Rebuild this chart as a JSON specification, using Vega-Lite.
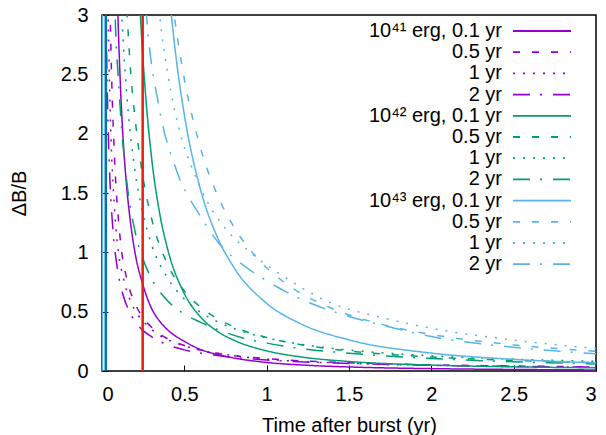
{
  "$schema": "https://vega.github.io/schema/vega-lite/v6.json",
  "width": 494,
  "height": 356,
  "autosize": {"type": "none"},
  "padding": {"left": 102, "top": 15, "right": 10, "bottom": 64},
  "background": "white",
  "config": {
    "view": {"stroke": "#000000", "strokeWidth": 1.5},
    "font": "Liberation Sans",
    "axis": {
      "domain": false, "grid": false, "tickColor": "#000000", "tickSize": -6, "tickWidth": 1,
      "labelFont": "Liberation Sans", "labelFontSize": 20, "labelColor": "#000000",
      "titleFont": "Liberation Sans", "titleFontSize": 20, "titleFontWeight": "normal", "titleColor": "#000000"
    }
  },
  "datasets": {
    "curves": [
      {"s":"p1","x":0.088,"y":3.45},{"s":"p1","x":0.0966,"y":3.0},{"s":"p1","x":0.11,"y":2.47},{"s":"p1","x":0.12,"y":2.16},{"s":"p1","x":0.135,"y":1.81},{"s":"p1","x":0.15,"y":1.55},{"s":"p1","x":0.175,"y":1.23},{"s":"p1","x":0.2,"y":1.0},{"s":"p1","x":0.25,"y":0.72},{"s":"p1","x":0.3,"y":0.53},{"s":"p1","x":0.35,"y":0.42},{"s":"p1","x":0.4,"y":0.345},{"s":"p1","x":0.5,"y":0.25},{"s":"p1","x":0.6,"y":0.18},{"s":"p1","x":0.7,"y":0.14},{"s":"p1","x":0.8,"y":0.11},{"s":"p1","x":1.0,"y":0.072},{"s":"p1","x":1.25,"y":0.048},{"s":"p1","x":1.5,"y":0.034},{"s":"p1","x":2.0,"y":0.02},{"s":"p1","x":2.5,"y":0.013},{"s":"p1","x":3.0,"y":0.009},

      {"s":"p2","x":0.045,"y":3.4},{"s":"p2","x":0.05,"y":3.0},{"s":"p2","x":0.06,"y":2.4},{"s":"p2","x":0.07,"y":2.0},{"s":"p2","x":0.08,"y":1.68},{"s":"p2","x":0.1,"y":1.27},{"s":"p2","x":0.12,"y":1.0},{"s":"p2","x":0.15,"y":0.78},{"s":"p2","x":0.2,"y":0.57},{"s":"p2","x":0.25,"y":0.45},{"s":"p2","x":0.3,"y":0.37},{"s":"p2","x":0.4,"y":0.27},{"s":"p2","x":0.5,"y":0.215},{"s":"p2","x":0.7,"y":0.15},{"s":"p2","x":1.0,"y":0.105},{"s":"p2","x":1.5,"y":0.07},{"s":"p2","x":2.0,"y":0.052},{"s":"p2","x":2.5,"y":0.042},{"s":"p2","x":3.0,"y":0.035},

      {"s":"p3","x":0.033,"y":3.3},{"s":"p3","x":0.037,"y":3.0},{"s":"p3","x":0.045,"y":2.45},{"s":"p3","x":0.055,"y":1.95},{"s":"p3","x":0.07,"y":1.5},{"s":"p3","x":0.085,"y":1.2},{"s":"p3","x":0.1,"y":1.0},{"s":"p3","x":0.13,"y":0.78},{"s":"p3","x":0.17,"y":0.6},{"s":"p3","x":0.22,"y":0.47},{"s":"p3","x":0.27,"y":0.39},{"s":"p3","x":0.35,"y":0.3},{"s":"p3","x":0.45,"y":0.235},{"s":"p3","x":0.6,"y":0.175},{"s":"p3","x":0.8,"y":0.13},{"s":"p3","x":1.0,"y":0.1},{"s":"p3","x":1.5,"y":0.065},{"s":"p3","x":2.0,"y":0.048},{"s":"p3","x":2.5,"y":0.038},{"s":"p3","x":3.0,"y":0.032},

      {"s":"p4","x":0.022,"y":3.36},{"s":"p4","x":0.025,"y":2.98},{"s":"p4","x":0.03,"y":2.51},{"s":"p4","x":0.04,"y":1.92},{"s":"p4","x":0.05,"y":1.55},{"s":"p4","x":0.06,"y":1.31},{"s":"p4","x":0.08,"y":1.0},{"s":"p4","x":0.1,"y":0.81},{"s":"p4","x":0.13,"y":0.63},{"s":"p4","x":0.16,"y":0.52},{"s":"p4","x":0.2,"y":0.42},{"s":"p4","x":0.25,"y":0.34},{"s":"p4","x":0.3,"y":0.29},{"s":"p4","x":0.4,"y":0.22},{"s":"p4","x":0.5,"y":0.178},{"s":"p4","x":0.7,"y":0.13},{"s":"p4","x":1.0,"y":0.093},{"s":"p4","x":1.5,"y":0.064},{"s":"p4","x":2.0,"y":0.048},{"s":"p4","x":2.5,"y":0.039},{"s":"p4","x":3.0,"y":0.033},

      {"s":"g1","x":0.22,"y":3.37},{"s":"g1","x":0.233,"y":3.0},{"s":"g1","x":0.26,"y":2.41},{"s":"g1","x":0.3,"y":1.81},{"s":"g1","x":0.35,"y":1.33},{"s":"g1","x":0.4,"y":1.02},{"s":"g1","x":0.5,"y":0.652},{"s":"g1","x":0.6,"y":0.453},{"s":"g1","x":0.7,"y":0.335},{"s":"g1","x":0.8,"y":0.26},{"s":"g1","x":1.0,"y":0.17},{"s":"g1","x":1.2,"y":0.12},{"s":"g1","x":1.5,"y":0.08},{"s":"g1","x":2.0,"y":0.05},{"s":"g1","x":2.5,"y":0.035},{"s":"g1","x":3.0,"y":0.027},

      {"s":"g2","x":0.14,"y":3.36},{"s":"g2","x":0.153,"y":3.0},{"s":"g2","x":0.175,"y":2.5},{"s":"g2","x":0.2,"y":2.14},{"s":"g2","x":0.25,"y":1.62},{"s":"g2","x":0.3,"y":1.29},{"s":"g2","x":0.4,"y":0.894},{"s":"g2","x":0.5,"y":0.675},{"s":"g2","x":0.6,"y":0.537},{"s":"g2","x":0.7,"y":0.442},{"s":"g2","x":0.8,"y":0.373},{"s":"g2","x":1.0,"y":0.282},{"s":"g2","x":1.2,"y":0.224},{"s":"g2","x":1.5,"y":0.169},{"s":"g2","x":2.0,"y":0.118},{"s":"g2","x":2.5,"y":0.089},{"s":"g2","x":3.0,"y":0.071},

      {"s":"g3","x":0.11,"y":3.3},{"s":"g3","x":0.12,"y":3.0},{"s":"g3","x":0.15,"y":2.34},{"s":"g3","x":0.2,"y":1.69},{"s":"g3","x":0.25,"y":1.32},{"s":"g3","x":0.3,"y":1.07},{"s":"g3","x":0.4,"y":0.78},{"s":"g3","x":0.5,"y":0.606},{"s":"g3","x":0.6,"y":0.494},{"s":"g3","x":0.7,"y":0.416},{"s":"g3","x":0.8,"y":0.358},{"s":"g3","x":1.0,"y":0.279},{"s":"g3","x":1.2,"y":0.227},{"s":"g3","x":1.5,"y":0.177},{"s":"g3","x":2.0,"y":0.128},{"s":"g3","x":2.5,"y":0.1},{"s":"g3","x":3.0,"y":0.0815},

      {"s":"g4","x":0.075,"y":3.3},{"s":"g4","x":0.08,"y":3.0},{"s":"g4","x":0.1,"y":2.45},{"s":"g4","x":0.12,"y":2.03},{"s":"g4","x":0.15,"y":1.6},{"s":"g4","x":0.2,"y":1.18},{"s":"g4","x":0.25,"y":0.94},{"s":"g4","x":0.3,"y":0.78},{"s":"g4","x":0.4,"y":0.59},{"s":"g4","x":0.5,"y":0.48},{"s":"g4","x":0.6,"y":0.41},{"s":"g4","x":0.72,"y":0.34},{"s":"g4","x":0.85,"y":0.28},{"s":"g4","x":1.0,"y":0.235},{"s":"g4","x":1.2,"y":0.19},{"s":"g4","x":1.5,"y":0.15},{"s":"g4","x":2.0,"y":0.105},{"s":"g4","x":2.5,"y":0.078},{"s":"g4","x":3.0,"y":0.06},

      {"s":"b1","x":0.38,"y":3.65},{"s":"b1","x":0.41,"y":3.16},{"s":"b1","x":0.45,"y":2.64},{"s":"b1","x":0.5,"y":2.16},{"s":"b1","x":0.6,"y":1.52},{"s":"b1","x":0.7,"y":1.13},{"s":"b1","x":0.8,"y":0.875},{"s":"b1","x":1.0,"y":0.57},{"s":"b1","x":1.2,"y":0.402},{"s":"b1","x":1.5,"y":0.262},{"s":"b1","x":2.0,"y":0.151},{"s":"b1","x":2.5,"y":0.098},{"s":"b1","x":3.0,"y":0.069},

      {"s":"b2","x":0.4,"y":3.44},{"s":"b2","x":0.42,"y":3.2},{"s":"b2","x":0.5,"y":2.46},{"s":"b2","x":0.58,"y":1.97},{"s":"b2","x":0.7,"y":1.485},{"s":"b2","x":0.8,"y":1.216},{"s":"b2","x":0.94,"y":0.955},{"s":"b2","x":1.1,"y":0.754},{"s":"b2","x":1.38,"y":0.537},{"s":"b2","x":1.7,"y":0.393},{"s":"b2","x":2.0,"y":0.308},{"s":"b2","x":2.5,"y":0.22},{"s":"b2","x":3.0,"y":0.167},

      {"s":"b3","x":0.33,"y":3.3},{"s":"b3","x":0.35,"y":3.0},{"s":"b3","x":0.4,"y":2.5},{"s":"b3","x":0.47,"y":2.03},{"s":"b3","x":0.55,"y":1.7},{"s":"b3","x":0.65,"y":1.4},{"s":"b3","x":0.75,"y":1.2},{"s":"b3","x":0.9,"y":1.0},{"s":"b3","x":1.1,"y":0.8},{"s":"b3","x":1.38,"y":0.58},{"s":"b3","x":1.7,"y":0.45},{"s":"b3","x":2.0,"y":0.36},{"s":"b3","x":2.5,"y":0.26},{"s":"b3","x":3.0,"y":0.19},

      {"s":"b4","x":0.25,"y":3.4},{"s":"b4","x":0.27,"y":3.0},{"s":"b4","x":0.35,"y":2.2},{"s":"b4","x":0.45,"y":1.7},{"s":"b4","x":0.6,"y":1.3},{"s":"b4","x":0.72,"y":1.06},{"s":"b4","x":0.85,"y":0.9},{"s":"b4","x":1.0,"y":0.76},{"s":"b4","x":1.25,"y":0.58},{"s":"b4","x":1.5,"y":0.46},{"s":"b4","x":1.75,"y":0.37},{"s":"b4","x":2.0,"y":0.29},{"s":"b4","x":2.5,"y":0.2},{"s":"b4","x":3.0,"y":0.145}
    ]
  },
  "layer": [
    {
      "data": {"name": "curves"},
      "mark": {"type": "line", "clip": true, "strokeWidth": 1.5, "interpolate": "monotone"},
      "encoding": {
        "x": {"field": "x", "type": "quantitative", "scale": {"domain": [0, 3], "nice": false},
              "axis": {"values": [0, 0.5, 1, 1.5, 2, 2.5, 3], "format": "~g", "title": "Time after burst (yr)", "labelPadding": 19, "titlePadding": 11}},
        "y": {"field": "y", "type": "quantitative", "scale": {"domain": [0, 3], "nice": false},
              "axis": {"values": [0, 0.5, 1, 1.5, 2, 2.5, 3], "format": "~g", "title": "ΔB/B", "labelPadding": 20, "titlePadding": 31}},
        "color": {
          "field": "s", "type": "nominal",
          "scale": {"domain": ["p1","p2","p3","p4","g1","g2","g3","g4","b1","b2","b3","b4"],
                    "range": ["#9400d3","#9400d3","#9400d3","#9400d3","#009e73","#009e73","#009e73","#009e73","#56b4e9","#56b4e9","#56b4e9","#56b4e9"]},
          "legend": {"orient": "none", "legendX": 410, "legendY": 6, "title": null, "padding": 0, "offset": 0,
                     "symbolType": "stroke", "symbolSize": 3364, "symbolStrokeWidth": 1.8,
                     "labelAlign": "right", "labelOffset": -70, "labelFontSize": 20, "labelFont": "Liberation Sans", "labelColor": "#000000", "labelLimit": 400,
                     "rowPadding": 1.2,
                     "encode": {"symbols": {"update": {"y": {"value": 10}}}, "labels": {"update": {"y": {"value": 10}}}},
                     "labelExpr": "datum.value=='p1'?'10⁴¹ erg, 0.1 yr':datum.value=='g1'?'10⁴² erg, 0.1 yr':datum.value=='b1'?'10⁴³ erg, 0.1 yr':substring(datum.value,1)=='2'?'0.5 yr':substring(datum.value,1)=='3'?'1 yr':'2 yr'"}
        },
        "strokeDash": {
          "field": "s", "type": "nominal",
          "scale": {"domain": ["p1","p2","p3","p4","g1","g2","g3","g4","b1","b2","b3","b4"],
                    "range": [[1,0],[7,12],[2,8],[17,10,2,11],[1,0],[7,12],[2,8],[17,10,2,11],[1,0],[7,12],[2,8],[17,10,2,11]]},
          "legend": {"orient": "none", "legendX": 410, "legendY": 6, "title": null, "padding": 0, "offset": 0,
                     "symbolType": "stroke", "symbolSize": 3364, "symbolStrokeWidth": 1.8,
                     "labelAlign": "right", "labelOffset": -70, "labelFontSize": 20, "labelFont": "Liberation Sans", "labelColor": "#000000", "labelLimit": 400,
                     "rowPadding": 1.2,
                     "encode": {"symbols": {"update": {"y": {"value": 10}}}, "labels": {"update": {"y": {"value": 10}}}},
                     "labelExpr": "datum.value=='p1'?'10⁴¹ erg, 0.1 yr':datum.value=='g1'?'10⁴² erg, 0.1 yr':datum.value=='b1'?'10⁴³ erg, 0.1 yr':substring(datum.value,1)=='2'?'0.5 yr':substring(datum.value,1)=='3'?'1 yr':'2 yr'"}
        }
      }
    },
    {
      "data": {"values": [{"x": 0.003}]},
      "mark": {"type": "rule", "color": "#56b4e9", "strokeWidth": 1.5},
      "encoding": {"x": {"field": "x", "type": "quantitative"}}
    },
    {
      "data": {"values": [{"x": 0.023}]},
      "mark": {"type": "rule", "color": "#0072b2", "strokeWidth": 2.5},
      "encoding": {"x": {"field": "x", "type": "quantitative"}}
    },
    {
      "data": {"values": [{"x": 0.247}]},
      "mark": {"type": "rule", "color": "#e51e10", "strokeWidth": 2.5},
      "encoding": {"x": {"field": "x", "type": "quantitative"}}
    }
  ]
}
